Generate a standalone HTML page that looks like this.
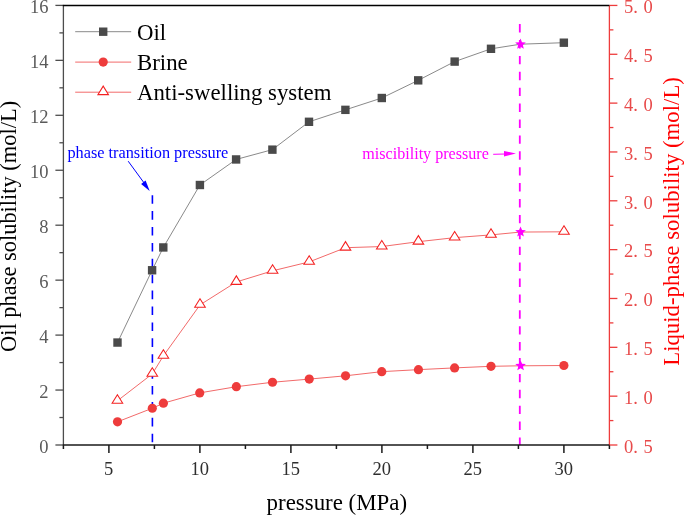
<!DOCTYPE html><html><head><meta charset="utf-8"><style>
html,body{margin:0;padding:0;background:#fff;}
body{width:685px;height:515px;overflow:hidden;}
svg{display:block;will-change:transform;}
text{font-family:"Liberation Serif",serif;}
.tk{font-size:18.5px;fill:#5a5a5a;}
.tkb{fill:#2e2e2e;}
.tkr{font-size:18.5px;fill:#e84a4a;}
.lg{font-size:22.8px;fill:#000;}
.an{font-size:16.3px;}
.ti{font-size:22.6px;}
</style></head><body><svg width="685" height="515" viewBox="0 0 685 515"><rect width="685" height="515" fill="#fff"/><line x1="152.4" y1="195.2" x2="152.4" y2="445.0" stroke="#0000ff" stroke-width="1.6" stroke-dasharray="8.6 7.3"/><line x1="519.8" y1="24.1" x2="519.8" y2="445.0" stroke="#ff00ff" stroke-width="1.8" stroke-dasharray="8.4 7.5"/><polyline points="117.50,342.55 152.10,270.25 163.30,247.45 199.90,185.00 236.10,159.45 272.40,149.65 309.00,121.80 345.40,109.85 381.80,98.00 418.20,80.35 454.65,61.60 491.00,48.80 520.50,44.20 563.85,42.70" fill="none" stroke="#8a8a8a" stroke-width="1"/><polyline points="117.40,400.80 152.30,373.90 163.40,355.85 200.00,304.90 236.35,281.95 272.60,270.80 309.20,261.90 345.50,247.70 381.80,246.55 418.40,241.70 454.65,237.65 491.00,234.90 520.55,232.05 564.00,231.80" fill="none" stroke="#f26a6a" stroke-width="1"/><polyline points="117.50,421.80 152.30,408.25 163.40,403.20 199.70,392.90 236.35,386.70 272.50,382.25 309.25,379.10 345.55,375.80 381.75,371.65 418.45,369.65 454.60,367.90 491.00,366.30 520.60,365.80 563.90,365.50" fill="none" stroke="#f26a6a" stroke-width="1"/><rect x="113.30" y="338.35" width="8.4" height="8.4" fill="#4a4a4a"/><rect x="147.90" y="266.05" width="8.4" height="8.4" fill="#4a4a4a"/><rect x="159.10" y="243.25" width="8.4" height="8.4" fill="#4a4a4a"/><rect x="195.70" y="180.80" width="8.4" height="8.4" fill="#4a4a4a"/><rect x="231.90" y="155.25" width="8.4" height="8.4" fill="#4a4a4a"/><rect x="268.20" y="145.45" width="8.4" height="8.4" fill="#4a4a4a"/><rect x="304.80" y="117.60" width="8.4" height="8.4" fill="#4a4a4a"/><rect x="341.20" y="105.65" width="8.4" height="8.4" fill="#4a4a4a"/><rect x="377.60" y="93.80" width="8.4" height="8.4" fill="#4a4a4a"/><rect x="414.00" y="76.15" width="8.4" height="8.4" fill="#4a4a4a"/><rect x="450.45" y="57.40" width="8.4" height="8.4" fill="#4a4a4a"/><rect x="486.80" y="44.60" width="8.4" height="8.4" fill="#4a4a4a"/><polygon points="520.50,38.60 521.97,42.18 525.83,42.47 522.88,44.97 523.79,48.73 520.50,46.70 517.21,48.73 518.12,44.97 515.17,42.47 519.03,42.18" fill="#ff00ff"/><rect x="559.65" y="38.50" width="8.4" height="8.4" fill="#4a4a4a"/><polygon points="117.40,394.70 122.70,403.20 112.10,403.20" fill="#fff" stroke="#f42020" stroke-width="1.05"/><polygon points="152.30,367.80 157.60,376.30 147.00,376.30" fill="#fff" stroke="#f42020" stroke-width="1.05"/><polygon points="163.40,349.75 168.70,358.25 158.10,358.25" fill="#fff" stroke="#f42020" stroke-width="1.05"/><polygon points="200.00,298.80 205.30,307.30 194.70,307.30" fill="#fff" stroke="#f42020" stroke-width="1.05"/><polygon points="236.35,275.85 241.65,284.35 231.05,284.35" fill="#fff" stroke="#f42020" stroke-width="1.05"/><polygon points="272.60,264.70 277.90,273.20 267.30,273.20" fill="#fff" stroke="#f42020" stroke-width="1.05"/><polygon points="309.20,255.80 314.50,264.30 303.90,264.30" fill="#fff" stroke="#f42020" stroke-width="1.05"/><polygon points="345.50,241.60 350.80,250.10 340.20,250.10" fill="#fff" stroke="#f42020" stroke-width="1.05"/><polygon points="381.80,240.45 387.10,248.95 376.50,248.95" fill="#fff" stroke="#f42020" stroke-width="1.05"/><polygon points="418.40,235.60 423.70,244.10 413.10,244.10" fill="#fff" stroke="#f42020" stroke-width="1.05"/><polygon points="454.65,231.55 459.95,240.05 449.35,240.05" fill="#fff" stroke="#f42020" stroke-width="1.05"/><polygon points="491.00,228.80 496.30,237.30 485.70,237.30" fill="#fff" stroke="#f42020" stroke-width="1.05"/><polygon points="520.55,226.45 522.02,230.03 525.88,230.32 522.93,232.82 523.84,236.58 520.55,234.55 517.26,236.58 518.17,232.82 515.22,230.32 519.08,230.03" fill="#ff00ff"/><polygon points="564.00,225.70 569.30,234.20 558.70,234.20" fill="#fff" stroke="#f42020" stroke-width="1.05"/><circle cx="117.50" cy="421.80" r="4.6" fill="#ee3c3c"/><circle cx="152.30" cy="408.25" r="4.6" fill="#ee3c3c"/><circle cx="163.40" cy="403.20" r="4.6" fill="#ee3c3c"/><circle cx="199.70" cy="392.90" r="4.6" fill="#ee3c3c"/><circle cx="236.35" cy="386.70" r="4.6" fill="#ee3c3c"/><circle cx="272.50" cy="382.25" r="4.6" fill="#ee3c3c"/><circle cx="309.25" cy="379.10" r="4.6" fill="#ee3c3c"/><circle cx="345.55" cy="375.80" r="4.6" fill="#ee3c3c"/><circle cx="381.75" cy="371.65" r="4.6" fill="#ee3c3c"/><circle cx="418.45" cy="369.65" r="4.6" fill="#ee3c3c"/><circle cx="454.60" cy="367.90" r="4.6" fill="#ee3c3c"/><circle cx="491.00" cy="366.30" r="4.6" fill="#ee3c3c"/><polygon points="520.60,360.20 522.07,363.78 525.93,364.07 522.98,366.57 523.89,370.33 520.60,368.30 517.31,370.33 518.22,366.57 515.27,364.07 519.13,363.78" fill="#ff00ff"/><circle cx="563.90" cy="365.50" r="4.6" fill="#ee3c3c"/><line x1="63.40" y1="445.0" x2="63.40" y2="449.0" stroke="#1a1a1a" stroke-width="1.5"/><line x1="108.90" y1="445.0" x2="108.90" y2="453.0" stroke="#1a1a1a" stroke-width="1.5"/><text x="108.70" y="475" text-anchor="middle" class="tk tkb">5</text><line x1="154.40" y1="445.0" x2="154.40" y2="449.0" stroke="#1a1a1a" stroke-width="1.5"/><line x1="199.90" y1="445.0" x2="199.90" y2="453.0" stroke="#1a1a1a" stroke-width="1.5"/><text x="199.70" y="475" text-anchor="middle" class="tk tkb">10</text><line x1="245.40" y1="445.0" x2="245.40" y2="449.0" stroke="#1a1a1a" stroke-width="1.5"/><line x1="290.90" y1="445.0" x2="290.90" y2="453.0" stroke="#1a1a1a" stroke-width="1.5"/><text x="290.70" y="475" text-anchor="middle" class="tk tkb">15</text><line x1="336.40" y1="445.0" x2="336.40" y2="449.0" stroke="#1a1a1a" stroke-width="1.5"/><line x1="381.90" y1="445.0" x2="381.90" y2="453.0" stroke="#1a1a1a" stroke-width="1.5"/><text x="381.70" y="475" text-anchor="middle" class="tk tkb">20</text><line x1="427.40" y1="445.0" x2="427.40" y2="449.0" stroke="#1a1a1a" stroke-width="1.5"/><line x1="472.90" y1="445.0" x2="472.90" y2="453.0" stroke="#1a1a1a" stroke-width="1.5"/><text x="472.70" y="475" text-anchor="middle" class="tk tkb">25</text><line x1="518.40" y1="445.0" x2="518.40" y2="449.0" stroke="#1a1a1a" stroke-width="1.5"/><line x1="563.90" y1="445.0" x2="563.90" y2="453.0" stroke="#1a1a1a" stroke-width="1.5"/><text x="563.70" y="475" text-anchor="middle" class="tk tkb">30</text><line x1="609.40" y1="445.0" x2="609.40" y2="449.0" stroke="#1a1a1a" stroke-width="1.5"/><line x1="55.40" y1="445.00" x2="63.400000000000006" y2="445.00" stroke="#4d4d4d" stroke-width="1.3"/><text x="48.6" y="453.00" text-anchor="end" class="tk">0</text><line x1="59.40" y1="417.52" x2="63.400000000000006" y2="417.52" stroke="#4d4d4d" stroke-width="1.3"/><line x1="55.40" y1="390.05" x2="63.400000000000006" y2="390.05" stroke="#4d4d4d" stroke-width="1.3"/><text x="48.6" y="398.05" text-anchor="end" class="tk">2</text><line x1="59.40" y1="362.57" x2="63.400000000000006" y2="362.57" stroke="#4d4d4d" stroke-width="1.3"/><line x1="55.40" y1="335.10" x2="63.400000000000006" y2="335.10" stroke="#4d4d4d" stroke-width="1.3"/><text x="48.6" y="343.10" text-anchor="end" class="tk">4</text><line x1="59.40" y1="307.62" x2="63.400000000000006" y2="307.62" stroke="#4d4d4d" stroke-width="1.3"/><line x1="55.40" y1="280.15" x2="63.400000000000006" y2="280.15" stroke="#4d4d4d" stroke-width="1.3"/><text x="48.6" y="288.15" text-anchor="end" class="tk">6</text><line x1="59.40" y1="252.67" x2="63.400000000000006" y2="252.67" stroke="#4d4d4d" stroke-width="1.3"/><line x1="55.40" y1="225.20" x2="63.400000000000006" y2="225.20" stroke="#4d4d4d" stroke-width="1.3"/><text x="48.6" y="233.20" text-anchor="end" class="tk">8</text><line x1="59.40" y1="197.72" x2="63.400000000000006" y2="197.72" stroke="#4d4d4d" stroke-width="1.3"/><line x1="55.40" y1="170.25" x2="63.400000000000006" y2="170.25" stroke="#4d4d4d" stroke-width="1.3"/><text x="48.6" y="178.25" text-anchor="end" class="tk">10</text><line x1="59.40" y1="142.77" x2="63.400000000000006" y2="142.77" stroke="#4d4d4d" stroke-width="1.3"/><line x1="55.40" y1="115.30" x2="63.400000000000006" y2="115.30" stroke="#4d4d4d" stroke-width="1.3"/><text x="48.6" y="123.30" text-anchor="end" class="tk">12</text><line x1="59.40" y1="87.82" x2="63.400000000000006" y2="87.82" stroke="#4d4d4d" stroke-width="1.3"/><line x1="55.40" y1="60.35" x2="63.400000000000006" y2="60.35" stroke="#4d4d4d" stroke-width="1.3"/><text x="48.6" y="68.35" text-anchor="end" class="tk">14</text><line x1="59.40" y1="32.88" x2="63.400000000000006" y2="32.88" stroke="#4d4d4d" stroke-width="1.3"/><line x1="55.40" y1="5.40" x2="63.400000000000006" y2="5.40" stroke="#4d4d4d" stroke-width="1.3"/><text x="48.6" y="13.40" text-anchor="end" class="tk">16</text><line x1="609.40" y1="445.00" x2="617.40" y2="445.00" stroke="#ee3c3c" stroke-width="1.3"/><text x="624" y="452.80" class="tkr">0.<tspan x="643.5">5</tspan></text><line x1="609.40" y1="420.58" x2="613.40" y2="420.58" stroke="#ee3c3c" stroke-width="1.3"/><line x1="609.40" y1="396.16" x2="617.40" y2="396.16" stroke="#ee3c3c" stroke-width="1.3"/><text x="624" y="403.96" class="tkr">1.<tspan x="643.5">0</tspan></text><line x1="609.40" y1="371.74" x2="613.40" y2="371.74" stroke="#ee3c3c" stroke-width="1.3"/><line x1="609.40" y1="347.32" x2="617.40" y2="347.32" stroke="#ee3c3c" stroke-width="1.3"/><text x="624" y="355.12" class="tkr">1.<tspan x="643.5">5</tspan></text><line x1="609.40" y1="322.90" x2="613.40" y2="322.90" stroke="#ee3c3c" stroke-width="1.3"/><line x1="609.40" y1="298.48" x2="617.40" y2="298.48" stroke="#ee3c3c" stroke-width="1.3"/><text x="624" y="306.28" class="tkr">2.<tspan x="643.5">0</tspan></text><line x1="609.40" y1="274.06" x2="613.40" y2="274.06" stroke="#ee3c3c" stroke-width="1.3"/><line x1="609.40" y1="249.64" x2="617.40" y2="249.64" stroke="#ee3c3c" stroke-width="1.3"/><text x="624" y="257.44" class="tkr">2.<tspan x="643.5">5</tspan></text><line x1="609.40" y1="225.22" x2="613.40" y2="225.22" stroke="#ee3c3c" stroke-width="1.3"/><line x1="609.40" y1="200.80" x2="617.40" y2="200.80" stroke="#ee3c3c" stroke-width="1.3"/><text x="624" y="208.60" class="tkr">3.<tspan x="643.5">0</tspan></text><line x1="609.40" y1="176.38" x2="613.40" y2="176.38" stroke="#ee3c3c" stroke-width="1.3"/><line x1="609.40" y1="151.96" x2="617.40" y2="151.96" stroke="#ee3c3c" stroke-width="1.3"/><text x="624" y="159.76" class="tkr">3.<tspan x="643.5">5</tspan></text><line x1="609.40" y1="127.54" x2="613.40" y2="127.54" stroke="#ee3c3c" stroke-width="1.3"/><line x1="609.40" y1="103.12" x2="617.40" y2="103.12" stroke="#ee3c3c" stroke-width="1.3"/><text x="624" y="110.92" class="tkr">4.<tspan x="643.5">0</tspan></text><line x1="609.40" y1="78.70" x2="613.40" y2="78.70" stroke="#ee3c3c" stroke-width="1.3"/><line x1="609.40" y1="54.28" x2="617.40" y2="54.28" stroke="#ee3c3c" stroke-width="1.3"/><text x="624" y="62.08" class="tkr">4.<tspan x="643.5">5</tspan></text><line x1="609.40" y1="29.86" x2="613.40" y2="29.86" stroke="#ee3c3c" stroke-width="1.3"/><line x1="609.40" y1="5.44" x2="617.40" y2="5.44" stroke="#ee3c3c" stroke-width="1.3"/><text x="624" y="13.24" class="tkr">5.<tspan x="643.5">0</tspan></text><line x1="63.400000000000006" y1="5.399999999999977" x2="63.400000000000006" y2="445.0" stroke="#4d4d4d" stroke-width="1.3"/><line x1="609.4" y1="5.399999999999977" x2="609.4" y2="445.0" stroke="#ee3c3c" stroke-width="1.3"/><line x1="62.800000000000004" y1="5.399999999999977" x2="609.4" y2="5.399999999999977" stroke="#000" stroke-width="1.5"/><line x1="62.800000000000004" y1="445.0" x2="609.4" y2="445.0" stroke="#1a1a1a" stroke-width="1.7"/><line x1="75.2" y1="31.7" x2="131.2" y2="31.7" stroke="#8a8a8a" stroke-width="1"/><rect x="99.00" y="27.50" width="8.4" height="8.4" fill="#4a4a4a"/><text x="137" y="39.7" class="lg">Oil</text><line x1="75.2" y1="62.1" x2="131.2" y2="62.1" stroke="#f26a6a" stroke-width="1"/><circle cx="103.20" cy="62.10" r="4.6" fill="#ee3c3c"/><text x="137" y="70.1" class="lg">Brine</text><line x1="75.2" y1="92.2" x2="131.2" y2="92.2" stroke="#f26a6a" stroke-width="1"/><polygon points="103.20,86.10 108.50,94.60 97.90,94.60" fill="#fff" stroke="#f42020" stroke-width="1.05"/><text x="137" y="100.2" class="lg">Anti-swelling system</text><text x="67.4" y="157.7" class="an" fill="#0000ff">phase transition pressure</text><line x1="128.2" y1="161.2" x2="144.5" y2="183.5" stroke="#0000ff" stroke-width="1"/><polygon points="149.7,191 141.1,183.9 145.6,180.6" fill="#0000ff"/><text x="362.3" y="158.6" class="an" fill="#ff00ff" style="font-size:16.1px">miscibility pressure</text><line x1="493.2" y1="154.3" x2="505" y2="154" stroke="#ff00ff" stroke-width="1"/><polygon points="515.9,153.4 504,150.9 504,156.6" fill="#ff00ff"/><text x="266.6" y="509.6" class="ti" style="font-size:22.9px">pressure (MPa)</text><text transform="translate(15.6,352) rotate(-90)" class="ti" style="font-size:22.45px">Oil phase solubility (mol/L)</text><text transform="translate(679,365.8) rotate(-90)" class="ti" fill="#ff0000" style="font-size:22.8px">Liquid-phase solubility (mol/L)</text></svg></body></html>
